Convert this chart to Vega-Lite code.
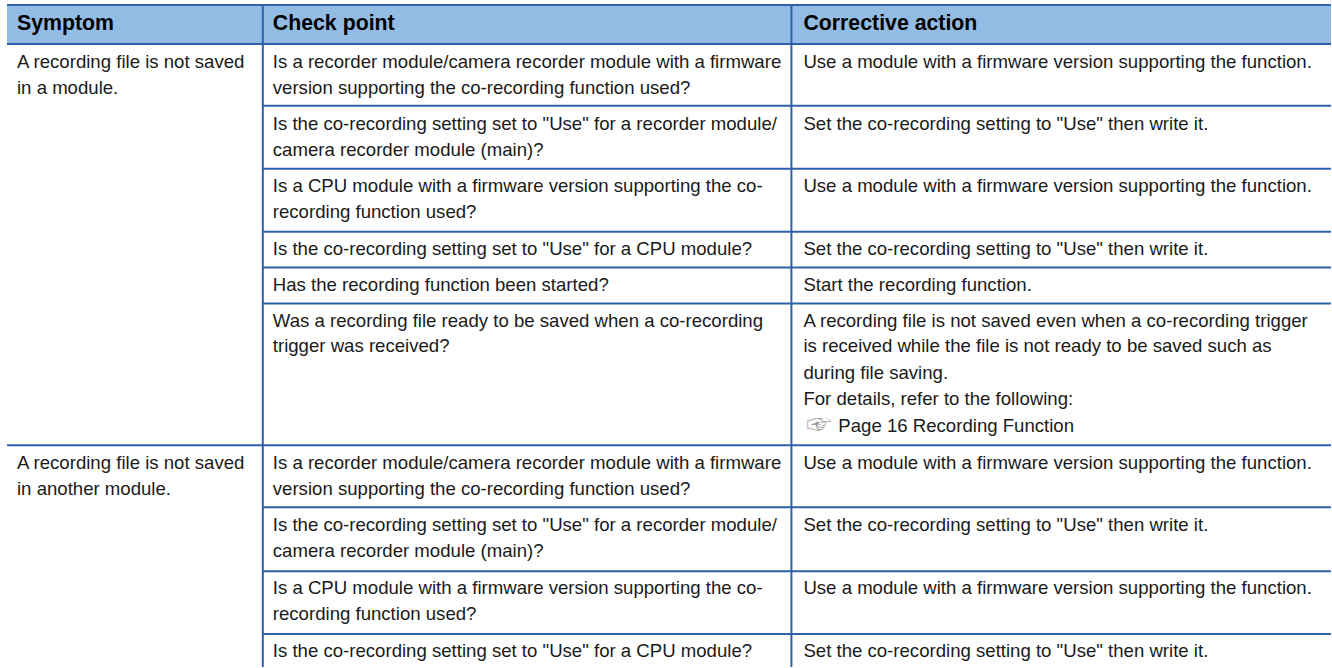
{"$schema":"https://vega.github.io/schema/vega-lite/v6.json","width":1332,"height":668,"padding":0,"autosize":{"type":"fit","contains":"padding"},"background":"white","config":{"view":{"stroke":null}},
"datasets":{
"header":[{"x":7,"x2":1332,"y":5,"y2":44}],
"lines":[
{"x":7,"x2":1332,"y":5,"y2":5},{"x":7,"x2":1332,"y":44,"y2":44},
{"x":263,"x2":1332,"y":106,"y2":106},{"x":263,"x2":1332,"y":169,"y2":169},{"x":263,"x2":1332,"y":232,"y2":232},{"x":263,"x2":1332,"y":268,"y2":268},{"x":263,"x2":1332,"y":304,"y2":304},
{"x":7,"x2":1332,"y":446,"y2":446},
{"x":263,"x2":1332,"y":508,"y2":508},{"x":263,"x2":1332,"y":572,"y2":572},{"x":263,"x2":1332,"y":635,"y2":635},
{"x":263,"x2":263,"y":5,"y2":668},{"x":792,"x2":792,"y":5,"y2":668}],
"heads":[{"x":17,"y":30,"t":"Symptom"},{"x":273,"y":30,"t":"Check point"},{"x":804,"y":30,"t":"Corrective action"}],
"cells":[
{"x":17,"y":68,"t":"A recording file is not saved"},{"x":17,"y":94,"t":"in a module."},
{"x":273,"y":68,"t":"Is a recorder module/camera recorder module with a firmware"},{"x":273,"y":94,"t":"version supporting the co-recording function used?"},
{"x":804,"y":68,"t":"Use a module with a firmware version supporting the function."},
{"x":273,"y":130,"t":"Is the co-recording setting set to \"Use\" for a recorder module/"},{"x":273,"y":156,"t":"camera recorder module (main)?"},
{"x":804,"y":130,"t":"Set the co-recording setting to \"Use\" then write it."},
{"x":273,"y":192,"t":"Is a CPU module with a firmware version supporting the co-"},{"x":273,"y":218,"t":"recording function used?"},
{"x":804,"y":192,"t":"Use a module with a firmware version supporting the function."},
{"x":273,"y":255,"t":"Is the co-recording setting set to \"Use\" for a CPU module?"},
{"x":804,"y":255,"t":"Set the co-recording setting to \"Use\" then write it."},
{"x":273,"y":291,"t":"Has the recording function been started?"},
{"x":804,"y":291,"t":"Start the recording function."},
{"x":273,"y":327,"t":"Was a recording file ready to be saved when a co-recording"},{"x":273,"y":353,"t":"trigger was received?"},
{"x":804,"y":327,"t":"A recording file is not saved even when a co-recording trigger"},{"x":804,"y":353,"t":"is received while the file is not ready to be saved such as"},{"x":804,"y":380,"t":"during file saving."},{"x":804,"y":406,"t":"For details, refer to the following:"},{"x":839,"y":433,"t":"Page 16 Recording Function"},
{"x":17,"y":470,"t":"A recording file is not saved"},{"x":17,"y":496,"t":"in another module."},
{"x":273,"y":470,"t":"Is a recorder module/camera recorder module with a firmware"},{"x":273,"y":496,"t":"version supporting the co-recording function used?"},
{"x":804,"y":470,"t":"Use a module with a firmware version supporting the function."},
{"x":273,"y":532,"t":"Is the co-recording setting set to \"Use\" for a recorder module/"},{"x":273,"y":558,"t":"camera recorder module (main)?"},
{"x":804,"y":532,"t":"Set the co-recording setting to \"Use\" then write it."},
{"x":273,"y":595,"t":"Is a CPU module with a firmware version supporting the co-"},{"x":273,"y":621,"t":"recording function used?"},
{"x":804,"y":595,"t":"Use a module with a firmware version supporting the function."},
{"x":273,"y":658,"t":"Is the co-recording setting set to \"Use\" for a CPU module?"},
{"x":804,"y":658,"t":"Set the co-recording setting to \"Use\" then write it."}],
"icons":[{"x":807,"y":434,"t":"☞"}]
},
"encoding":{"x":{"field":"x","type":"quantitative","scale":{"domain":[0,1332],"nice":false,"zero":false},"axis":null},"y":{"field":"y","type":"quantitative","scale":{"domain":[668,0],"nice":false,"zero":false},"axis":null}},
"layer":[
{"data":{"name":"header"},"mark":{"type":"rect","color":"#92bce3"},"encoding":{"x2":{"field":"x2"},"y2":{"field":"y2"}}},
{"data":{"name":"lines"},"mark":{"type":"rule","color":"#2f60ab","strokeWidth":2},"encoding":{"x2":{"field":"x2"},"y2":{"field":"y2"}}},
{"data":{"name":"heads"},"mark":{"type":"text","align":"left","baseline":"alphabetic","font":"Liberation Sans","fontWeight":"bold","fontSize":21.3,"color":"#000000"},"encoding":{"text":{"field":"t"}}},
{"data":{"name":"cells"},"mark":{"type":"text","align":"left","baseline":"alphabetic","font":"Liberation Sans","fontSize":18.6,"color":"#1a1a1a"},"encoding":{"text":{"field":"t"}}},
{"data":{"name":"icons"},"mark":{"type":"text","align":"left","baseline":"alphabetic","font":"Noto Sans CJK JP","fontSize":25,"color":"#9a9a9a"},"encoding":{"text":{"field":"t"}}}
]}
